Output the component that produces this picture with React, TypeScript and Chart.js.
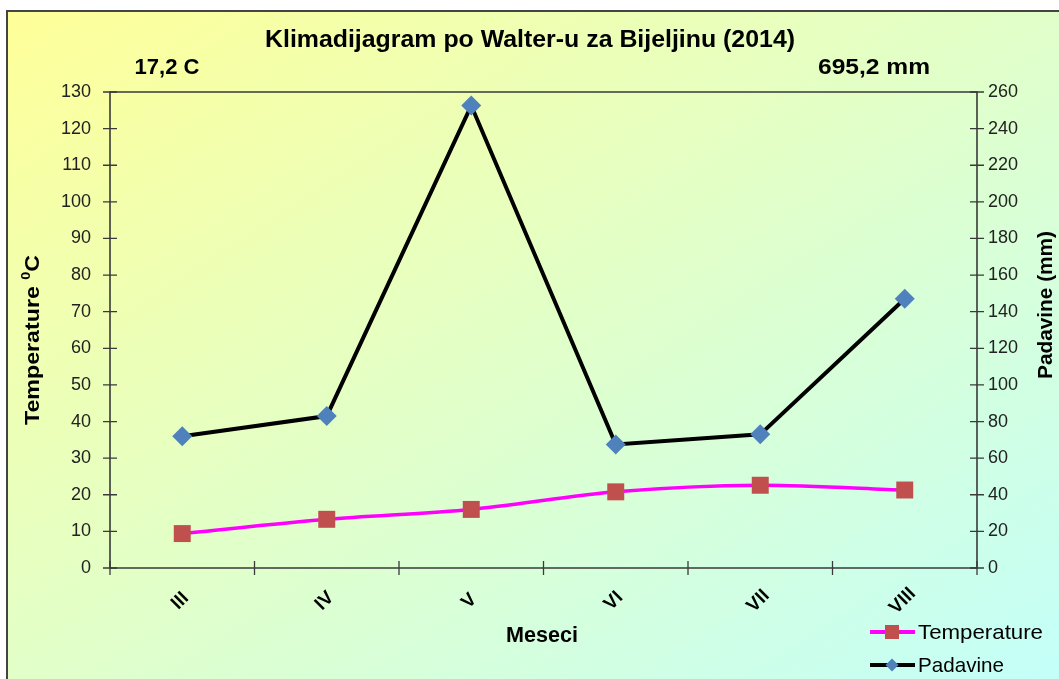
import { useEffect, useRef } from 'react';
import { Chart, registerables } from 'chart.js';

Chart.register(...registerables);

const categories = ['III', 'IV', 'V', 'VI', 'VII', 'VIII'];
const temperature = [9.4, 13.3, 16.0, 20.8, 22.6, 21.3];
const padavine = [72.0, 83.0, 252.6, 67.5, 73.0, 147.1];
const tempMax = 130;
const tempStep = 10;
const rainMax = 260;
const rainStep = 20;
const chartTitle = 'Klimadijagram po Walter-u za Bijeljinu (2014)';
const meanTempLabel = '17,2 C';
const totalRainLabel = '695,2 mm';
const xTitle = 'Meseci';
const yTitleMain = 'Temperature ';
const yTitleSup = '0';
const yTitleUnit = 'C';
const y2Title = 'Padavine (mm)';
const seriesNames = ['Temperature', 'Padavine'];

const FONT = '"Liberation Sans", Arial, sans-serif';
const TEMP_LINE = '#FF00FF';
const TEMP_MARK = '#C0504D';
const RAIN_LINE = '#000000';
const RAIN_MARK = '#4F81BD';
const AXIS = '#3a3a3a';

function fitText(ctx: CanvasRenderingContext2D, text: string, x: number, y: number, font: string, width: number, rot = 0, align: CanvasTextAlign = 'center') {
  ctx.save();
  ctx.font = font;
  ctx.translate(x, y);
  if (rot) ctx.rotate(rot);
  const w = ctx.measureText(text).width;
  if (width) ctx.scale(width / w, 1);
  ctx.textAlign = align;
  ctx.textBaseline = 'middle';
  ctx.fillStyle = '#000';
  ctx.fillText(text, 0, 0);
  ctx.restore();
}

const framePlugin = {
  id: 'frame',
  beforeDatasetsDraw(chart: any) {
    const { ctx, chartArea, scales } = chart;
    const { left, right, top, bottom } = chartArea;
    ctx.save();
    ctx.strokeStyle = AXIS;
    ctx.lineWidth = 1.6;
    ctx.beginPath();
    ctx.rect(left, top, right - left, bottom - top);
    ctx.stroke();
    ctx.lineWidth = 1.3;
    ctx.beginPath();
    scales.y.ticks.forEach((_t: any, i: number) => {
      const py = scales.y.getPixelForTick(i);
      ctx.moveTo(left - 7, py);
      ctx.lineTo(left + 7, py);
    });
    scales.y2.ticks.forEach((_t: any, i: number) => {
      const py = scales.y2.getPixelForTick(i);
      ctx.moveTo(right - 7, py);
      ctx.lineTo(right + 7, py);
    });
    for (let i = 0; i <= categories.length; i++) {
      let px;
      if (i === 0) px = left;
      else if (i === categories.length) px = right;
      else px = (scales.x.getPixelForValue(i - 1) + scales.x.getPixelForValue(i)) / 2;
      ctx.moveTo(px, bottom - 7);
      ctx.lineTo(px, bottom + 7);
    }
    ctx.stroke();
    ctx.restore();
  },
  afterDraw(chart: any) {
    const { ctx, chartArea, scales } = chart;
    const { bottom } = chartArea;
    fitText(ctx, chartTitle, 530, 40, `bold 24px ${FONT}`, 530);
    fitText(ctx, meanTempLabel, 167, 68, `bold 22px ${FONT}`, 65);
    fitText(ctx, totalRainLabel, 874, 68, `bold 22px ${FONT}`, 112);
    fitText(ctx, xTitle, 542, 636, `bold 22px ${FONT}`, 72);

    // x labels rotated
    categories.forEach((c, i) => {
      const px = scales.x.getPixelForValue(i);
      ctx.save();
      ctx.font = `bold 19px ${FONT}`;
      ctx.translate(px - 2, bottom + 33);
      ctx.rotate(-Math.PI / 4);
      ctx.textAlign = 'center';
      ctx.textBaseline = 'middle';
      ctx.fillStyle = '#000';
      ctx.fillText(c, 0, 0);
      ctx.restore();
    });

    // left axis title with superscript
    ctx.save();
    ctx.translate(31, 340);
    ctx.rotate(-Math.PI / 2);
    const mainFont = `bold 21px ${FONT}`;
    const supFont = `bold 13px ${FONT}`;
    ctx.font = mainFont;
    const w1 = ctx.measureText(yTitleMain).width;
    const w3 = ctx.measureText(yTitleUnit).width;
    ctx.font = supFont;
    const w2 = ctx.measureText(yTitleSup).width;
    const total = w1 + w2 + w3;
    ctx.scale(170 / total, 1);
    ctx.fillStyle = '#000';
    ctx.textBaseline = 'alphabetic';
    ctx.textAlign = 'left';
    let x0 = -total / 2;
    ctx.font = mainFont;
    ctx.fillText(yTitleMain, x0, 8);
    x0 += w1;
    ctx.font = supFont;
    ctx.fillText(yTitleSup, x0, -1);
    x0 += w2;
    ctx.font = mainFont;
    ctx.fillText(yTitleUnit, x0, 8);
    ctx.restore();

    fitText(ctx, y2Title, 1046, 305, `bold 21px ${FONT}`, 148, -Math.PI / 2);

    // legend
    const items = [
      { name: seriesNames[0], y: 632, line: TEMP_LINE, mark: TEMP_MARK, style: 'rect', w: 125 },
      { name: seriesNames[1], y: 665, line: RAIN_LINE, mark: RAIN_MARK, style: 'diamond', w: 86 },
    ];
    items.forEach((it) => {
      ctx.save();
      ctx.strokeStyle = it.line;
      ctx.lineWidth = 4;
      ctx.beginPath();
      ctx.moveTo(870, it.y);
      ctx.lineTo(915, it.y);
      ctx.stroke();
      ctx.fillStyle = it.mark;
      if (it.style === 'rect') {
        ctx.fillRect(892 - 7, it.y - 7, 14, 14);
      } else {
        ctx.beginPath();
        ctx.moveTo(892, it.y - 6.5);
        ctx.lineTo(898.5, it.y);
        ctx.lineTo(892, it.y + 6.5);
        ctx.lineTo(885.5, it.y);
        ctx.closePath();
        ctx.fill();
      }
      ctx.restore();
      fitText(ctx, it.name, 918, it.y + 1, `21px ${FONT}`, it.w, 0, 'left');
    });
  },
};

export default function App() {
  const ref = useRef<HTMLCanvasElement | null>(null);

  useEffect(() => {
    const canvas = ref.current;
    if (!canvas) return;
    const chart = new Chart(canvas, {
      type: 'line',
      data: {
        labels: categories,
        datasets: [
          {
            label: seriesNames[1],
            data: padavine,
            yAxisID: 'y2',
            borderColor: RAIN_LINE,
            borderWidth: 4,
            backgroundColor: RAIN_MARK,
            pointStyle: 'rectRot',
            pointRadius: 10,
            pointBackgroundColor: RAIN_MARK,
            pointBorderColor: RAIN_MARK,
            pointBorderWidth: 0,
            tension: 0,
          },
          {
            label: seriesNames[0],
            data: temperature,
            yAxisID: 'y',
            borderColor: TEMP_LINE,
            borderWidth: 3.5,
            backgroundColor: TEMP_MARK,
            pointStyle: 'rect',
            pointRadius: 12,
            pointBackgroundColor: TEMP_MARK,
            pointBorderColor: TEMP_MARK,
            pointBorderWidth: 0,
            tension: 0.3,
          },
        ],
      },
      options: {
        responsive: false,
        animation: false,
        layout: { padding: { top: 92, left: 0, right: 0, bottom: 0 } },
        plugins: {
          legend: { display: false },
          tooltip: { enabled: false },
          title: { display: false },
        },
        scales: {
          x: {
            type: 'category',
            offset: true,
            grid: { display: false, drawTicks: false },
            border: { display: false },
            ticks: { display: false },
            afterFit: (s: any) => { s.height = 111; },
          },
          y: {
            position: 'left',
            min: 0,
            max: tempMax,
            grid: { display: false, drawTicks: false },
            border: { display: false },
            ticks: {
              stepSize: tempStep,
              padding: 19,
              color: '#222',
              font: { family: FONT, size: 18 },
            },
            afterFit: (s: any) => { s.width = 110; },
          },
          y2: {
            position: 'right',
            min: 0,
            max: rainMax,
            grid: { display: false, drawTicks: false },
            border: { display: false },
            ticks: {
              stepSize: rainStep,
              padding: 11,
              color: '#222',
              font: { family: FONT, size: 18 },
            },
            afterFit: (s: any) => { s.width = 82; },
          },
        },
      },
      plugins: [framePlugin],
    } as any);
    return () => chart.destroy();
  }, []);

  return (
    <div style={{ position: 'fixed', left: 0, top: 0, width: 1059, height: 679, overflow: 'hidden', background: '#fff' }}>
      <div
        style={{
          position: 'absolute',
          left: 6,
          top: 10,
          width: 1100,
          height: 720,
          borderLeft: '2px solid #444',
          borderTop: '2px solid #444',
          background: 'linear-gradient(to bottom right, #FFFF99, #C0FFFF)',
        }}
      />
      <canvas ref={ref} width={1059} height={679} style={{ position: 'absolute', left: 0, top: 0, display: 'block' }} />
    </div>
  );
}
